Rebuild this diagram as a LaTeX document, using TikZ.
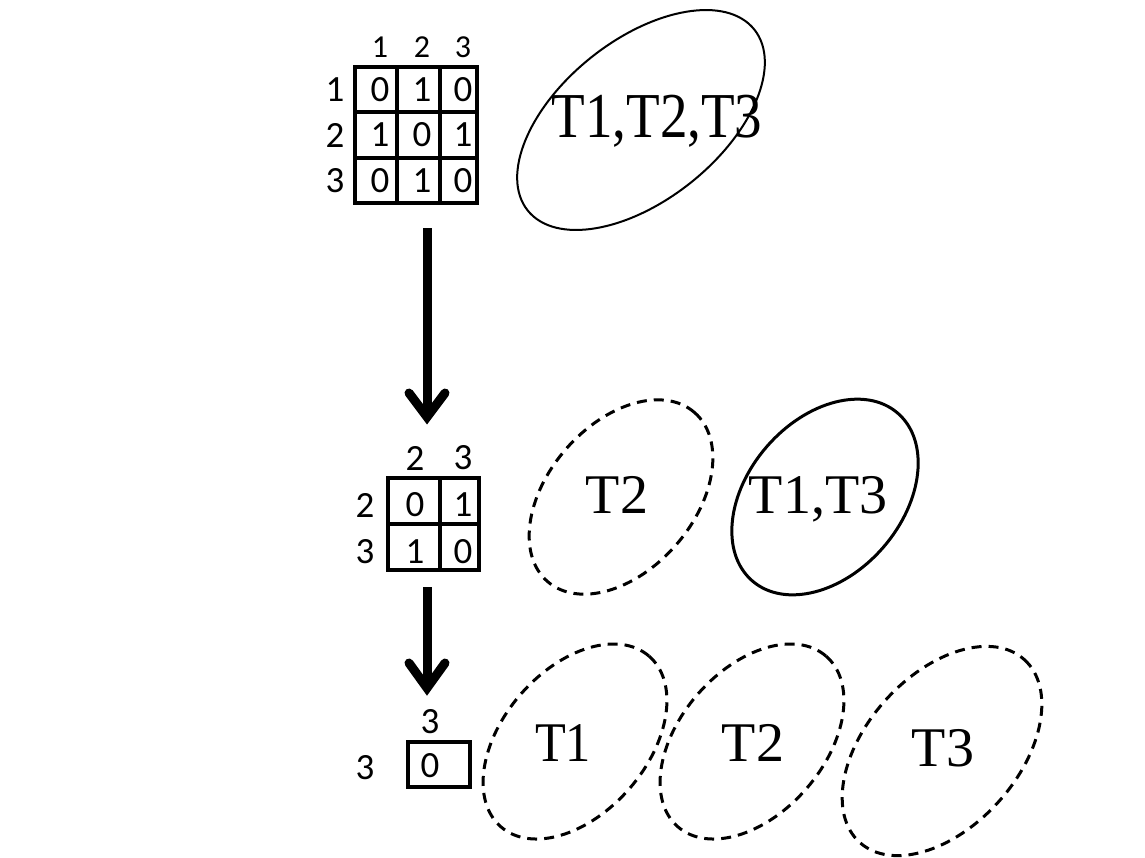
\documentclass[tikz,border=0pt]{standalone}
\usepackage{fontspec}
\setmainfont{Liberation Serif}
\newfontfamily\calibfont{Carlito}
\usepackage{graphicx}
\begin{document}
\begin{tikzpicture}[x=1pt,y=-1pt,
  grid/.style={line width=4pt},
  num/.style={font=\calibfont\fontsize{37}{40}\selectfont, inner sep=0pt},
  hnum/.style={font=\calibfont\fontsize{32}{35}\selectfont, inner sep=0pt},
  biglab/.style={font=\fontsize{64}{68}\selectfont, inner sep=0pt, anchor=base},
  lab/.style={font=\fontsize{56}{60}\selectfont, inner sep=0pt, anchor=base},
  setsolid/.style={line width=2pt},
  setsolidb/.style={line width=3pt},
  setdash/.style={line width=3pt, dash pattern=on 10pt off 7pt},
  shaft/.style={line width=9pt},
  arrowhead/.style={line width=9pt, line cap=round, line join=miter}]
\useasboundingbox (0,0) rectangle (1145,857);

% ---------- matrix 1 ----------
\draw[grid] (355,67) rectangle (477,203);
\draw[grid] (397,67) -- (397,203);
\draw[grid] (440,67) -- (440,203);
\draw[grid] (355,112) -- (477,112);
\draw[grid] (355,158) -- (477,158);
\node[hnum] (h1a) at (380,47) {1};
\node[hnum] (h1b) at (422,47) {2};
\node[hnum] (h1c) at (463,47) {3};
\node[num] (r1a) at (335,90) {1};
\node[num] (r1b) at (335,135) {2};
\node[num] (r1c) at (335,181) {3};
\node[num] (m11) at (380,90) {0};
\node[num] (m12) at (422,90) {1};
\node[num] (m13) at (463,90) {0};
\node[num] (m21) at (380,135) {1};
\node[num] (m22) at (422,135) {0};
\node[num] (m23) at (463,135) {1};
\node[num] (m31) at (380,181) {0};
\node[num] (m32) at (422,181) {1};
\node[num] (m33) at (463,181) {0};

% ---------- matrix 2 ----------
\draw[grid] (388,478) rectangle (479,570);
\draw[grid] (440,478) -- (440,570);
\draw[grid] (388,524) -- (479,524);
\node[num] (h2a) at (415,458) {2};
\node[num] (h2b) at (463,458) {3};
\node[num] (r2a) at (365,505) {2};
\node[num] (r2b) at (365,552) {3};
\node[num] (n11) at (415,505) {0};
\node[num] (n12) at (463,505) {1};
\node[num] (n21) at (415,552) {1};
\node[num] (n22) at (463,552) {0};

% ---------- matrix 3 ----------
\draw[grid] (408,742) rectangle (470,787);
\node[num] (h3a) at (430,722) {3};
\node[num] (r3a) at (365,768) {3};
\node[num] (p11) at (430,766) {0};

% ---------- arrows ----------
\coordinate (a1s) at (427,228);
\coordinate (a1t) at (427,417);
\draw[shaft] (a1s) -- (a1t);
\draw[arrowhead] ([shift={(-18,-24)}]a1t) -- (a1t) -- ([shift={(18,-24)}]a1t);
\coordinate (a2s) at (427,587);
\coordinate (a2t) at (427,688);
\draw[shaft] (a2s) -- (a2t);
\draw[arrowhead] ([shift={(-18,-25)}]a2t) -- (a2t) -- ([shift={(18,-25)}]a2t);

% ---------- sets ----------
\draw[setsolid, rotate around={38.6:(641,120)}] (641,120) ellipse [x radius=145, y radius=80];
\node[biglab] (t123) at (657,137) {\scalebox{0.86}[1]{T1,T2,T3}};

\draw[setdash, rotate around={49:(621,497)}] (621,497) ellipse [x radius=112, y radius=73];
\node[lab] (t2m) at (617,513) {T2};
\draw[setsolidb, rotate around={49:(825,497)}] (825,497) ellipse [x radius=111, y radius=77];
\node[lab] (t13) at (818,513) {T1,T3};

\draw[setdash, rotate around={49:(575,741.5)}] (575,741.5) ellipse [x radius=113, y radius=72];
\node[lab] (t1b) at (563,761) {\scalebox{0.9}[1]{T1}};
\draw[setdash, rotate around={49:(752,741.5)}] (752,741.5) ellipse [x radius=113, y radius=72];
\node[lab] (t2b) at (753,761) {T2};
\draw[setdash, rotate around={48:(942,751)}] (942,751) ellipse [x radius=123, y radius=76];
\node[lab] (t3b) at (943,766) {T3};
\end{tikzpicture}
\end{document}
